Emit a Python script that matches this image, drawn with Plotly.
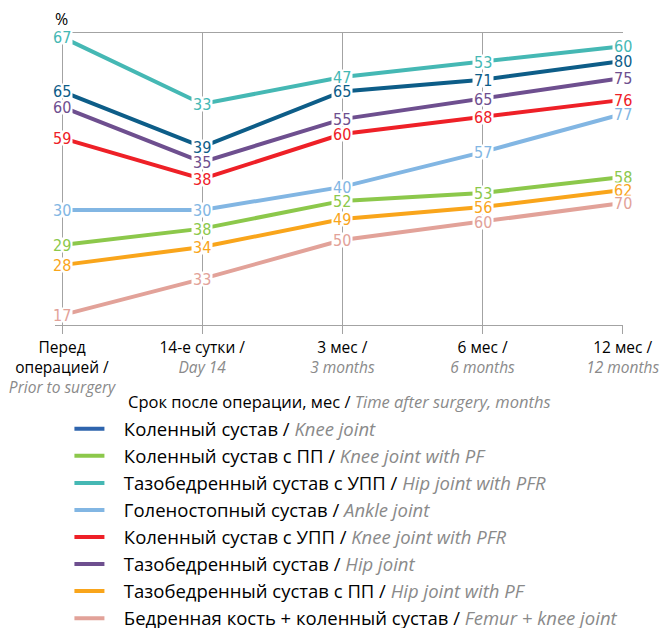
import plotly.graph_objects as go

# ---- data ----
categories = ["pre", "d14", "m3", "m6", "m12"]
tick_ru = ["Перед<br>операцией /", "14-е сутки /", "3 мес /", "6 мес /", "12 мес /"]
tick_en = ["Prior to surgery", "Day 14", "3 months", "6 months", "12 months"]

series_ru = [
    "Коленный сустав", "Коленный сустав с ПП", "Тазобедренный сустав с УПП",
    "Голеностопный сустав", "Коленный сустав с УПП", "Тазобедренный сустав",
    "Тазобедренный сустав с ПП", "Бедренная кость + коленный сустав",
]
series_en = [
    "Knee joint", "Knee joint with PF", "Hip joint with PFR", "Ankle joint",
    "Knee joint with PFR", "Hip joint", "Hip joint with PF", "Femur + knee joint",
]

# printed values (%)
knee = [65, 39, 65, 71, 80]
knee_pf = [29, 38, 52, 53, 58]
hip_pfr = [67, 33, 47, 53, 60]
ankle = [30, 30, 40, 57, 77]
knee_pfr = [59, 38, 60, 68, 76]
hip = [60, 35, 55, 65, 75]
hip_pf = [28, 34, 49, 56, 62]
femur_knee = [17, 33, 50, 60, 70]
values = [knee, knee_pf, hip_pfr, ankle, knee_pfr, hip, hip_pf, femur_knee]

# vertical level at which each line is drawn in the original (0-100 chart scale)
lvl_knee = [80, 61, 80, 84, 90.4]
lvl_knee_pf = [27.4, 33, 42.5, 45.2, 50.7]
lvl_hip_pfr = [98.6, 75.7, 84.9, 90.1, 95.5]
lvl_ankle = [39.4, 39.4, 47.3, 59.2, 72.3]
lvl_knee_pfr = [64, 50, 65.4, 71.2, 77.1]
lvl_hip = [74.7, 55.8, 70.5, 77.4, 84.6]
lvl_hip_pf = [20.5, 26.7, 36.3, 40.4, 46.2]
lvl_femur_knee = [3.4, 15.8, 29.1, 35.3, 41.8]
levels = [lvl_knee, lvl_knee_pf, lvl_hip_pfr, lvl_ankle, lvl_knee_pfr, lvl_hip, lvl_hip_pf, lvl_femur_knee]

line_colors = ["#0d5d88", "#8cc84b", "#45b8b4", "#82b6e3", "#ee2027", "#6e4f8f", "#f9a51b", "#e2a299"]
legend_colors = ["#2e64ad", "#8cc84b", "#45b8b4", "#82b6e3", "#ee2027", "#6e4f8f", "#f9a51b", "#e2a299"]

GRAY = "#8a8a8a"
GRID = "#a3a3a3"
FONT = "Open Sans, Noto Sans, sans-serif"
NUMFONT = "Liberation Sans Narrow, DejaVu Sans Condensed, sans-serif"
PAD = "\u00a0\u00a0\u00a0"

fig = go.Figure()

for i in range(len(values)):
    fig.add_trace(go.Scatter(
        x=categories, y=levels[i], mode="lines",
        line=dict(color=line_colors[i], width=4),
        showlegend=False, hoverinfo="skip",
    ))

for i in range(len(values)):
    fig.add_trace(go.Scatter(
        x=[None], y=[None], mode="lines",
        line=dict(color=legend_colors[i], width=4),
        name=f"{PAD}{series_ru[i]} / <span style='color:{GRAY}'><i>{series_en[i]}</i></span>",
    ))

for i in range(len(values)):
    for j, c in enumerate(categories):
        fig.add_annotation(
            x=c, y=levels[i][j], xref="x", yref="y",
            text=str(values[i][j]), showarrow=False,
            font=dict(family=NUMFONT, size=16, color=line_colors[i]),
            bgcolor="white", borderpad=1, height=12,
        )

ticktext = [f"{r}<br><span style='color:{GRAY}'><i>{e}</i></span>" for r, e in zip(tick_ru, tick_en)]

fig.update_xaxes(
    type="category", categoryorder="array", categoryarray=categories,
    range=[-0.05, 4.002],
    tickvals=categories, ticktext=ticktext,
    showgrid=True, gridcolor=GRID, gridwidth=1,
    showline=True, linecolor=GRID, linewidth=1, mirror=True,
    ticks="outside", ticklen=8, tickcolor=GRID, ticklabelstandoff=0,
    tickfont=dict(family=FONT, size=15.5, color="black"),
    automargin=False,
)
fig.update_yaxes(
    range=[0, 100], showgrid=False, showticklabels=False,
    zeroline=False, showline=False, ticks="", automargin=False,
)

fig.add_annotation(
    x=0.012, y=1.048, xref="paper", yref="paper", text="%", showarrow=False,
    font=dict(family=FONT, size=16, color="black"), xanchor="center", yanchor="middle",
)
fig.add_annotation(
    x=0.5, y=-0.262, xref="paper", yref="paper",
    text=f"Срок после операции, мес / <span style='color:{GRAY}'><i>Time after surgery, months</i></span>",
    showarrow=False, font=dict(family=FONT, size=16.5, color="black"),
    xanchor="center", yanchor="middle",
)

fig.update_layout(
    width=667, height=628,
    margin=dict(l=55, r=44, t=33, b=303, autoexpand=False),
    paper_bgcolor="white", plot_bgcolor="white",
    showlegend=True,
    legend=dict(
        x=0.0254, y=-0.292, xanchor="left", yanchor="top",
        font=dict(family=FONT, size=18.5, color="black"),
        bgcolor="rgba(0,0,0,0)", itemwidth=30, tracegroupgap=0,
    ),
)

fig.write_html(
    "out.html",
    config={"displayModeBar": False},
    post_script="document.body.style.margin='0';document.body.style.overflow='hidden';",
)
